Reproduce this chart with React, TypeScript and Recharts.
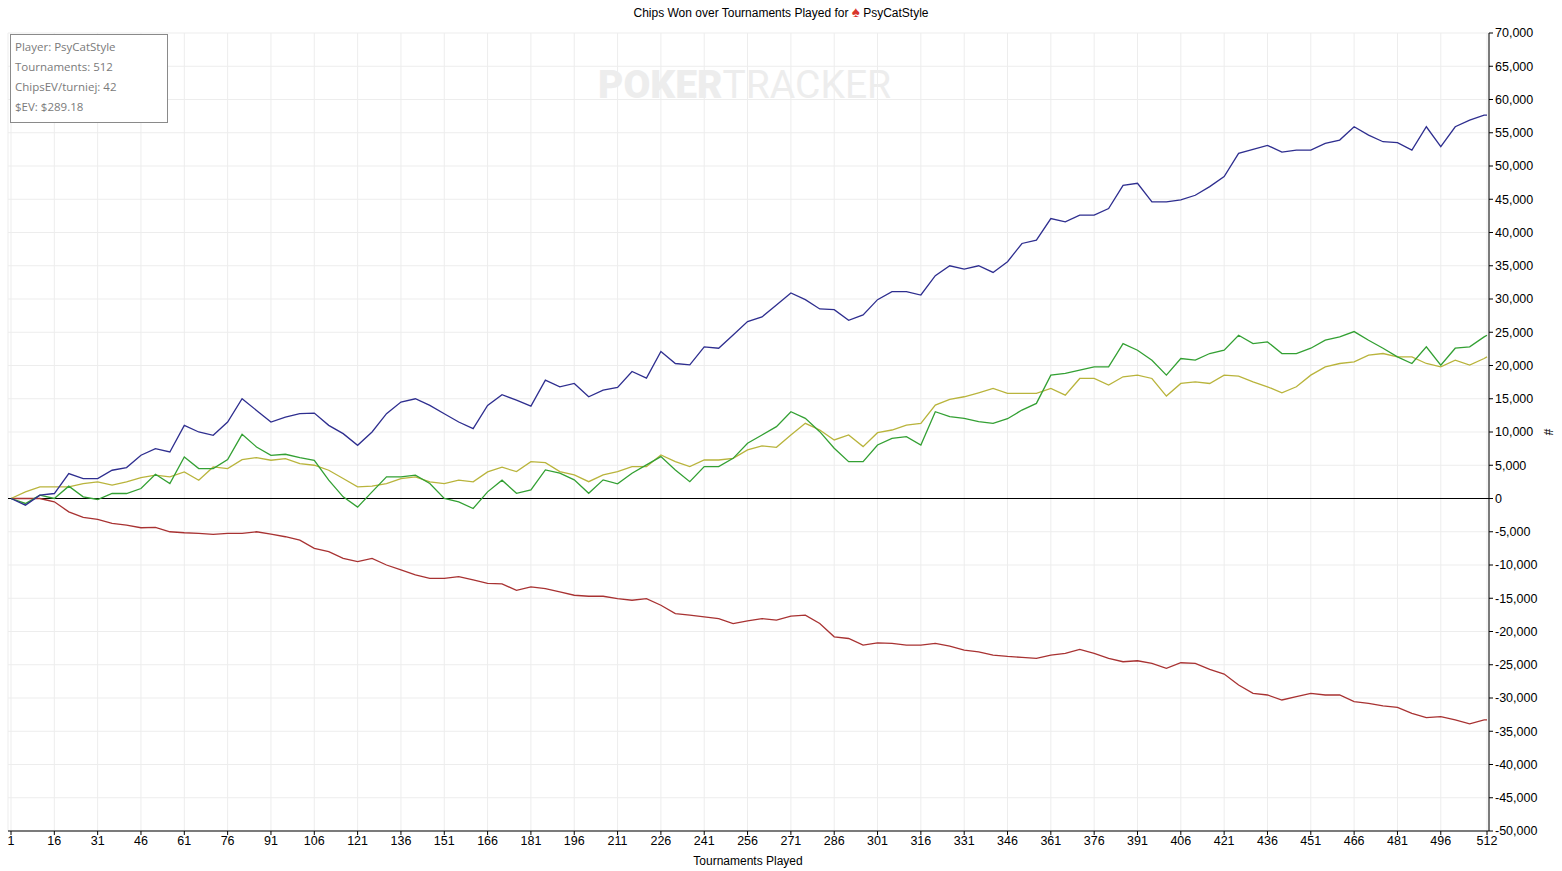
import React from "react"
import { LineChart, Line, XAxis, YAxis, CartesianGrid, ReferenceLine } from "recharts"

// tournament number at every sample point
const tournaments = [
  1, 6, 11, 16, 21, 26, 31, 36, 41, 46, 51, 56, 61, 66, 71, 76, 81, 86, 91, 96,
  101, 106, 111, 116, 121, 126, 131, 136, 141, 146, 151, 156, 161, 166, 171, 176, 181, 186, 191, 196,
  201, 206, 211, 216, 221, 226, 231, 236, 241, 246, 251, 256, 261, 266, 271, 276, 281, 286, 291, 296,
  301, 306, 311, 316, 321, 326, 331, 336, 341, 346, 351, 356, 361, 366, 371, 376, 381, 386, 391, 396,
  401, 406, 411, 416, 421, 426, 431, 436, 441, 446, 451, 456, 461, 466, 471, 476, 481, 486, 491, 496,
  501, 506, 511, 512,
]

// chips won (blue)
const chipsWon = [
  0, -1000, 500, 750, 3750, 3000, 3000, 4250, 4650, 6500, 7500, 7000, 11000, 10000, 9500, 11500, 15000, 13250, 11500, 12250,
  12750, 12850, 11000, 9750, 8000, 10000, 12750, 14500, 15000, 14000, 12750, 11500, 10500, 14000, 15600, 14800, 13900, 17800, 16800, 17300,
  15300, 16300, 16700, 19100, 18100, 22100, 20300, 20100, 22800, 22600, 24600, 26600, 27300, 29100, 30900, 29900, 28500, 28400, 26800, 27600,
  29900, 31100, 31100, 30600, 33500, 35000, 34500, 35000, 34000, 35600, 38350, 38850, 42100, 41600, 42600, 42600, 43600, 47100, 47400, 44600,
  44600, 44900, 45600, 46900, 48400, 51900, 52500, 53100, 52100, 52400, 52400, 53400, 53900, 55900, 54650, 53650, 53500, 52400, 55900, 52900,
  55900, 56900, 57650, 57650,
]

// showdown (green)
const showdown = [
  0, -750, 500, 0, 1850, 250, -150, 750, 750, 1500, 3650, 2250, 6250, 4500, 4500, 5850, 9650, 7750, 6500, 6650,
  6150, 5750, 2750, 250, -1300, 1000, 3250, 3250, 3500, 2250, 0, -500, -1500, 1000, 2750, 780, 1280, 4300, 3800, 2800,
  780, 2800, 2200, 3800, 5050, 6300, 4300, 2530, 4790, 4790, 6040, 8300, 9550, 10800, 13050, 12050, 10050, 7550, 5540, 5540,
  8050, 9050, 9300, 8050, 13050, 12300, 12050, 11550, 11300, 12000, 13300, 14300, 18550, 18800, 19300, 19800, 19800, 23300, 22300, 20800,
  18550, 21050, 20800, 21800, 22300, 24550, 23300, 23550, 21800, 21800, 22600, 23800, 24300, 25100, 23800, 22600, 21300, 20300, 22800, 20050,
  22600, 22800, 24300, 24550,
]

// chips EV (yellow)
const chipsEv = [
  0, 1000, 1750, 1750, 1750, 2250, 2500, 2000, 2500, 3150, 3500, 3250, 4000, 2750, 4750, 4500, 5850, 6150, 5750, 6000,
  5250, 5000, 4250, 3000, 1750, 1850, 2250, 3000, 3250, 2500, 2250, 2750, 2500, 4000, 4700, 4040, 5540, 5390, 4040, 3540,
  2530, 3540, 4040, 4790, 4790, 6540, 5540, 4790, 5790, 5790, 6040, 7300, 7900, 7700, 9550, 11300, 10300, 8800, 9550, 7800,
  9900, 10300, 11050, 11300, 14050, 14900, 15300, 15900, 16550, 15800, 15800, 15800, 16550, 15550, 18050, 18050, 17050, 18300, 18550, 18050,
  15400, 17300, 17550, 17300, 18550, 18400, 17550, 16800, 15900, 16800, 18550, 19800, 20300, 20550, 21550, 21800, 21300, 21300, 20300, 19800,
  20800, 20050, 21050, 21300,
]

// non showdown (red)
const nonShowdown = [
  0, 0, 0, -500, -2000, -2850, -3150, -3750, -4000, -4400, -4350, -5000, -5150, -5250, -5400, -5250, -5250, -5000, -5350, -5750,
  -6250, -7500, -8000, -9000, -9500, -9000, -10000, -10750, -11500, -12000, -12000, -11750, -12250, -12750, -12850, -13800, -13300, -13550, -14050, -14550,
  -14700, -14700, -15050, -15300, -15050, -16050, -17300, -17550, -17800, -18050, -18800, -18400, -18050, -18300, -17700, -17550, -18800, -20800, -21050, -22050,
  -21700, -21800, -22050, -22050, -21800, -22200, -22800, -23050, -23550, -23750, -23900, -24050, -23550, -23300, -22700, -23300, -24050, -24550, -24400, -24800,
  -25550, -24700, -24800, -25700, -26400, -28050, -29300, -29550, -30300, -29800, -29300, -29550, -29550, -30550, -30800, -31200, -31400, -32300, -32950, -32800,
  -33300, -33900, -33300, -33300,
]

const xTicks = [1, 16, 31, 46, 61, 76, 91, 106, 121, 136, 151, 166, 181, 196, 211, 226, 241, 256, 271, 286, 301, 316, 331, 346, 361, 376, 391, 406, 421, 436, 451, 466, 481, 496, 512]
const yTicks = [-50000, -45000, -40000, -35000, -30000, -25000, -20000, -15000, -10000, -5000, 0, 5000, 10000, 15000, 20000, 25000, 30000, 35000, 40000, 45000, 50000, 55000, 60000, 65000, 70000]

const infoLines = ["Player: PsyCatStyle", "Tournaments: 512", "ChipsEV/turniej: 42", "$EV: $289.18"]

const data = tournaments.map((t, i) => ({
  t,
  won: chipsWon[i],
  sd: showdown[i],
  ev: chipsEv[i],
  nsd: nonShowdown[i],
}))

const tickFont = { fontFamily: "Liberation Sans, Arial, sans-serif", fontSize: 12.5, fill: "#000" }

export default function App() {
  return (
    <div style={{ position: "absolute", left: 0, top: 0, width: 1562, height: 871, background: "#fff", fontFamily: "Liberation Sans, Arial, sans-serif" }}>
      <div style={{ position: "absolute", left: 0, width: 1562, top: 6, textAlign: "center", fontSize: 12, color: "#000" }}>
        Chips Won over Tournaments Played for <span style={{ color: "#d8342a", fontSize: 15, lineHeight: "12px" }}>♠</span> PsyCatStyle
      </div>

      <div style={{ position: "absolute", left: 598, top: 62, fontSize: 39, color: "#ededed", fontFamily: "Roboto, sans-serif", whiteSpace: "nowrap" }}>
        <span style={{ fontWeight: 900 }}>POKER</span>
        <span style={{ fontWeight: 400 }}>TRACKER</span>
      </div>

      <LineChart width={1562} height={871} data={data} margin={{ top: 33, right: 0, bottom: 0, left: 8 }} style={{ position: "absolute", left: 0, top: 0 }}>
        <CartesianGrid stroke="#ededed" strokeWidth={1} />
        <XAxis
          type="number"
          dataKey="t"
          domain={[1, 512]}
          ticks={xTicks}
          interval={0}
          padding={{ left: 3, right: 2 }}
          height={40}
          tickSize={4}
          tickMargin={1}
          stroke="#000"
          tick={tickFont}
          tickLine={{ stroke: "#000" }}
          axisLine={{ stroke: "#000" }}
        />
        <XAxis xAxisId="top" orientation="top" type="number" dataKey="t" domain={[1, 512]} height={0} tick={false} tickLine={false} axisLine={{ stroke: "#000" }} />
        <YAxis
          orientation="right"
          type="number"
          domain={[-50000, 70000]}
          ticks={yTicks}
          interval={0}
          width={73}
          tickSize={4}
          tickMargin={2}
          tick={tickFont}
          tickLine={{ stroke: "#000" }}
          axisLine={{ stroke: "#000" }}
          tickFormatter={(v: number) => v.toLocaleString("en-US")}
        />
        <YAxis yAxisId="left" orientation="left" domain={[-50000, 70000]} width={0} tick={false} tickLine={false} axisLine={{ stroke: "#000" }} />
        <ReferenceLine y={0} stroke="#000" strokeWidth={1.2} />
        <Line type="linear" dataKey="nsd" stroke="#a83232" strokeWidth={1.3} dot={false} isAnimationActive={false} />
        <Line type="linear" dataKey="ev" stroke="#b9b43c" strokeWidth={1.3} dot={false} isAnimationActive={false} />
        <Line type="linear" dataKey="sd" stroke="#33a033" strokeWidth={1.3} dot={false} isAnimationActive={false} />
        <Line type="linear" dataKey="won" stroke="#2e2e8f" strokeWidth={1.3} dot={false} isAnimationActive={false} />
      </LineChart>

      <div style={{ position: "absolute", left: 10, top: 34, width: 158, height: 89, border: "1px solid #8a8a8a", background: "#fff", fontFamily: "Open Sans, Noto Sans, sans-serif", fontSize: 11.5, color: "#7a7a7a", lineHeight: "20px", paddingTop: 2, paddingLeft: 4, boxSizing: "border-box" }}>
        {infoLines.map((l) => (
          <div key={l}>{l}</div>
        ))}
      </div>

      <div style={{ position: "absolute", left: 748, top: 854, transform: "translateX(-50%)", fontSize: 12, color: "#000", whiteSpace: "nowrap" }}>
        Tournaments Played
      </div>
      <div style={{ position: "absolute", left: 1545, top: 425, fontSize: 12, color: "#000", transform: "rotate(90deg)" }}>#</div>
    </div>
  )
}
